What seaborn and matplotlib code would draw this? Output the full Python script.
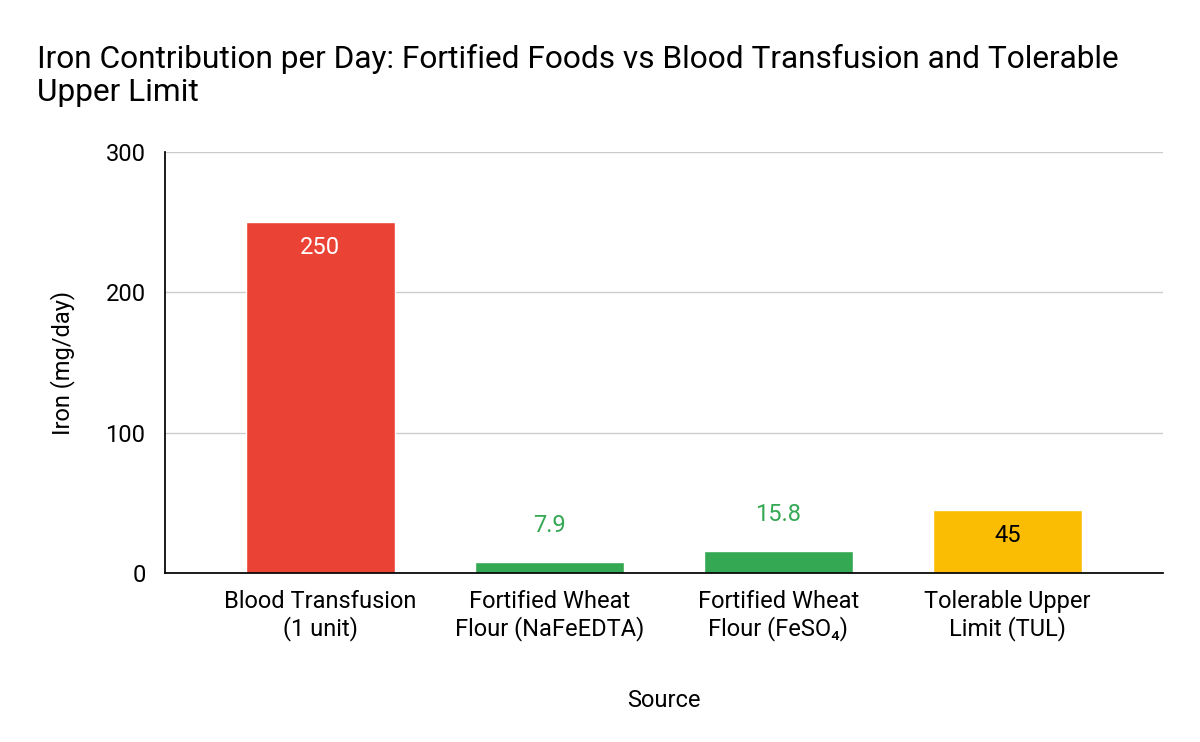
import matplotlib
matplotlib.use("Agg")
import matplotlib.pyplot as plt
import seaborn as sns
import pandas as pd

categories = ["Blood Transfusion\n(1 unit)", "Fortified Wheat\nFlour (NaFeEDTA)", "Fortified Wheat\nFlour (FeSO\u2084)", "Tolerable Upper\nLimit (TUL)"]
values = [250, 7.9, 15.8, 45]
labels = ["250", "7.9", "15.8", "45"]
colors = ["#ea4335", "#34a853", "#34a853", "#fbbc04"]
label_colors = ["white", "#34a853", "#34a853", "black"]
yticks = [0, 100, 200, 300]

sns.set_theme(style="white")
plt.rcParams['font.family'] = ['Roboto', 'DejaVu Sans']
plt.rcParams['text.color'] = 'black'
plt.rcParams['axes.labelcolor'] = 'black'
plt.rcParams['xtick.color'] = 'black'
plt.rcParams['ytick.color'] = 'black'

df = pd.DataFrame({"Source": categories, "Iron": values})
fig = plt.figure(figsize=(12, 7.42), dpi=100)
ax = fig.add_axes([0.1375, 0.2278, 0.8315, 0.5672])
sns.barplot(data=df, x="Source", y="Iron", hue="Source", palette=colors, width=0.65, ax=ax, legend=False, saturation=1)
ax.set_xlim(-0.677, 3.677)
ax.set_ylim(0, 300)
ax.set_yticks(yticks)
ax.yaxis.grid(True, color="#cccccc", linewidth=1)
ax.set_axisbelow(True)
for s in ["top", "right"]:
    ax.spines[s].set_visible(False)
ax.spines["left"].set_color("black")
ax.spines["bottom"].set_color("black")
ax.tick_params(axis="y", direction="inout", length=24, width=1, color="black", labelsize=17, pad=2)
ax.tick_params(axis="x", length=0, labelsize=17, pad=12)
ax.set_xlabel("Source", fontsize=17, labelpad=34)
ax.set_ylabel("Iron (mg/day)", fontsize=17, labelpad=22)
for i, (v, l, c) in enumerate(zip(values, labels, label_colors)):
    if c == "#34a853":
        ax.text(i, v + 26, l, ha="center", va="center", color=c, fontsize=17)
    else:
        ax.text(i, v - 18, l, ha="center", va="center", color=c, fontsize=17)
fig.text(0.031, 0.898, "Iron Contribution per Day: Fortified Foods vs Blood Transfusion and Tolerable\nUpper Limit",
         fontsize=22.8, ha="left", va="center", linespacing=1.2)
fig.savefig("out.png", dpi=100)
